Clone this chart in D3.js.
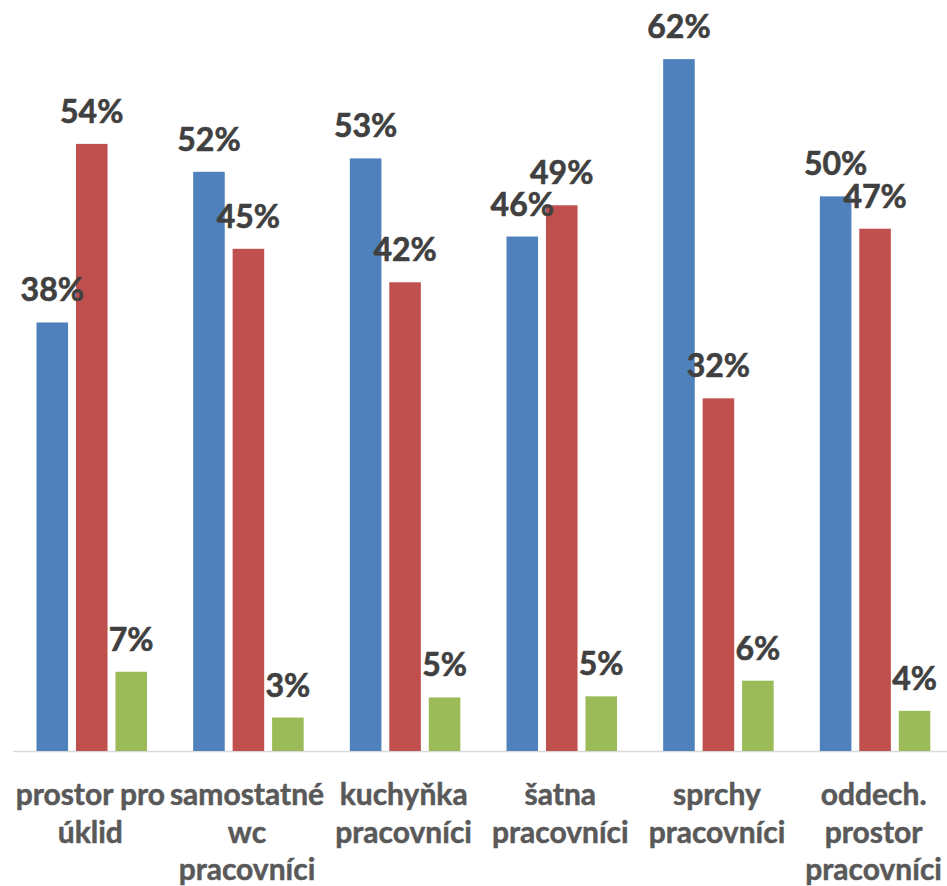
<!DOCTYPE html>
<html>
<head>
<meta charset="utf-8">
<script src="https://cdn.jsdelivr.net/npm/d3@7"></script>
<style>
  html, body { margin: 0; padding: 0; background: #fff; }
  svg { display: block; }
</style>
</head>
<body>
<div id="chart"></div>
<script>
const W = 947, H = 886

// data
const categories = [
  "prostor pro\núklid",
  "samostatné\nwc\npracovníci",
  "kuchyňka\npracovníci",
  "šatna\npracovníci",
  "sprchy\npracovníci",
  "oddech.\nprostor\npracovníci"
]
const seriesNames = ["a", "b", "c"]
const blueValues  = [0.384, 0.519, 0.531, 0.461, 0.620, 0.497]
const redValues   = [0.544, 0.450, 0.420, 0.489, 0.316, 0.468]
const greenValues = [0.071, 0.030, 0.048, 0.049, 0.063, 0.036]
const colors = ["#4F81BD", "#C0504D", "#9BBB59"]

const values = [blueValues, redValues, greenValues]
const rows = categories.map((c, i) => ({
  cat: c,
  vals: seriesNames.map((s, j) => ({ key: s, idx: j, v: values[j][i] }))
}))

var svg = d3.select("#chart").append("svg")
  .attr("width", W)
  .attr("height", H)

var x0 = d3.scaleBand()
  .domain(categories)
  .range([13, 953])
  .padding(0)

var x1 = d3.scaleBand()
  .domain(seriesNames)
  .range([23.5, 134])
  .paddingInner(0.2)

var y = d3.scaleLinear()
  .domain([0, 0.7])
  .range([751, 751 - 0.7 * 1116])

var fmt = d3.format(".0%")

// baseline axis
svg.append("line")
  .attr("x1", 13).attr("x2", W)
  .attr("y1", y(0) + 0.5).attr("y2", y(0) + 0.5)
  .attr("stroke", "#D9D9D9")
  .attr("stroke-width", 1.5)

var groups = svg.selectAll("g.cat")
  .data(rows)
  .enter().append("g")
  .attr("class", "cat")
  .attr("transform", d => "translate(" + x0(d.cat) + ",0)")

groups.selectAll("rect")
  .data(d => d.vals)
  .enter().append("rect")
  .attr("x", d => x1(d.key))
  .attr("width", x1.bandwidth())
  .attr("y", d => y(d.v))
  .attr("height", d => y(0) - y(d.v))
  .attr("fill", d => colors[d.idx])

// value labels (a thin stroke to get closer to the heavier original weight)
groups.selectAll("text.val")
  .data(d => d.vals)
  .enter().append("text")
  .attr("class", "val")
  .attr("x", d => x1(d.key) + x1.bandwidth() / 2)
  .attr("y", d => y(d.v) - 21)
  .attr("text-anchor", "middle")
  .style("font-family", "Lato, 'Open Sans', sans-serif")
  .style("font-weight", "bold")
  .style("font-size", "32px")
  .style("fill", "#404040")
  .style("stroke", "#404040")
  .style("stroke-width", 0.6)
  .text(d => fmt(d.v))

// category labels
var catLabels = svg.selectAll("text.cat")
  .data(categories)
  .enter().append("text")
  .attr("class", "cat")
  .attr("text-anchor", "middle")
  .style("font-family", "Lato, 'Open Sans', sans-serif")
  .style("font-weight", "bold")
  .style("font-size", "30px")
  .style("fill", "#595959")
  .style("stroke", "#595959")
  .style("stroke-width", 0.5)

catLabels.selectAll("tspan")
  .data(d => d.split("\n").map(line => ({ line, cat: d })))
  .enter().append("tspan")
  .attr("x", d => x0(d.cat) + x0.bandwidth() / 2 - 1)
  .attr("y", (d, i) => 805 + i * 37.5)
  .text(d => d.line)
</script>
</body>
</html>
